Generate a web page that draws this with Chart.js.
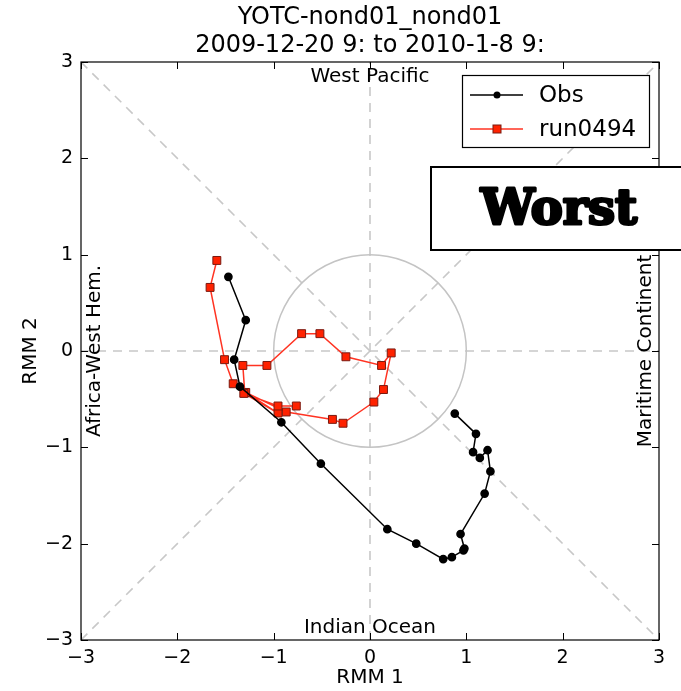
<!DOCTYPE html>
<html>
<head>
<meta charset="utf-8">
<script src="https://cdn.jsdelivr.net/npm/chart.js@4.4.0/dist/chart.umd.min.js"></script>
<style>
html,body{margin:0;padding:0;background:#fff;}
#wrap{width:681px;height:691px;position:relative;}
</style>
</head>
<body>
<div id="wrap"><canvas id="c" width="681" height="691"></canvas></div>
<script>
// ---- data ----
const obsX = [-1.47,-1.29,-1.41,-1.35,-0.92,-0.51,0.18,0.48,0.76,0.85,0.97,0.98,0.94,1.19,1.25,1.22,1.14,1.07,1.10,0.88];
const obsY = [0.77,0.32,-0.09,-0.37,-0.74,-1.17,-1.85,-2.00,-2.16,-2.14,-2.07,-2.05,-1.90,-1.48,-1.25,-1.03,-1.11,-1.05,-0.86,-0.65];
const runX = [-1.59,-1.66,-1.51,-1.42,-1.30,-1.32,-1.07,-0.71,-0.52,-0.25,0.12,0.22,0.14,0.04,-0.28,-0.39,-0.87,-1.29,-0.955,-1.31,-0.955,-0.765];
const runY = [0.94,0.66,-0.09,-0.34,-0.435,-0.15,-0.15,0.18,0.18,-0.06,-0.15,-0.02,-0.40,-0.53,-0.75,-0.71,-0.633,-0.43,-0.644,-0.44,-0.571,-0.571];
const tickVals = [-3,-2,-1,0,1,2,3];
const titleLines = ["YOTC-nond01_nond01","2009-12-20 9: to 2010-1-8 9:"];
const seriesNames = ["Obs","run0494"];
const regionLabels = {top:"West Pacific", bottom:"Indian Ocean", left:"Africa-West Hem.", right:"Maritime Continent"};
const axisTitles = ["RMM 1","RMM 2"];
const stampText = "Worst";

const FONT = '"DejaVu Sans", sans-serif';
const toPts = (xs, ys) => xs.map((x,i)=>({x:x, y:ys[i]}));
const fmt = v => (v < 0 ? '\u2212' + Math.abs(v) : String(v));

const decor = {
  id:'decor',
  beforeDatasetsDraw(chart){
    const {ctx, chartArea:a, scales:{x, y}} = chart;
    ctx.save();
    ctx.beginPath(); ctx.rect(a.left, a.top, a.right-a.left, a.bottom-a.top); ctx.clip();
    ctx.strokeStyle = '#c8c8c8'; ctx.lineWidth = 1.6; ctx.setLineDash([9,7]);
    const seg = (x1,y1,x2,y2)=>{ctx.beginPath();ctx.moveTo(x.getPixelForValue(x1),y.getPixelForValue(y1));ctx.lineTo(x.getPixelForValue(x2),y.getPixelForValue(y2));ctx.stroke();};
    seg(-3,-3,3,3); seg(-3,3,3,-3); seg(0,-3,0,3); seg(-3,0,3,0);
    ctx.setLineDash([]);
    ctx.strokeStyle = '#c4c4c4'; ctx.lineWidth = 1.5;
    const cx = x.getPixelForValue(0), cy = y.getPixelForValue(0);
    const r = x.getPixelForValue(1) - cx;
    ctx.beginPath(); ctx.arc(cx, cy, r, 0, Math.PI*2); ctx.stroke();
    // region labels
    ctx.fillStyle = '#000'; ctx.font = '20px ' + FONT; ctx.textAlign='center'; ctx.textBaseline='middle';
    ctx.fillText(regionLabels.top, cx, a.top + 15);
    ctx.fillText(regionLabels.bottom, cx, a.bottom - 12);
    ctx.save(); ctx.translate(a.left + 14, cy); ctx.rotate(-Math.PI/2); ctx.fillText(regionLabels.left, 0, 0); ctx.restore();
    ctx.save(); ctx.translate(a.right - 13, cy); ctx.rotate(-Math.PI/2); ctx.fillText(regionLabels.right, 0, 0); ctx.restore();
    ctx.restore();
  },
  afterDraw(chart){
    const {ctx, chartArea:a, scales:{x, y}} = chart;
    ctx.save();
    // frame
    ctx.strokeStyle = '#000'; ctx.lineWidth = 1.2;
    ctx.strokeRect(a.left, a.top, a.right-a.left, a.bottom-a.top);
    // inward ticks
    ctx.lineWidth = 1;
    tickVals.forEach(v=>{
      const px = Math.round(x.getPixelForValue(v))+0.5, py = Math.round(y.getPixelForValue(v))+0.5;
      ctx.beginPath();
      ctx.moveTo(px, a.bottom); ctx.lineTo(px, a.bottom-7);
      ctx.moveTo(px, a.top); ctx.lineTo(px, a.top+7);
      ctx.moveTo(a.left, py); ctx.lineTo(a.left+7, py);
      ctx.moveTo(a.right, py); ctx.lineTo(a.right-7, py);
      ctx.stroke();
    });
    // titles
    const cx = (a.left + a.right)/2;
    ctx.fillStyle = '#000'; ctx.textAlign='center'; ctx.textBaseline='middle';
    ctx.font = '24px ' + FONT;
    ctx.fillText(titleLines[0], cx, 18);
    ctx.fillText(titleLines[1], cx, 46);
    ctx.font = '20px ' + FONT;
    ctx.fillText(axisTitles[0], cx, 678);
    ctx.save(); ctx.translate(31, (a.top+a.bottom)/2); ctx.rotate(-Math.PI/2); ctx.fillText(axisTitles[1], 0, 0); ctx.restore();
    // legend
    const lx = 462, ly = 75, lw = 187, lh = 72;
    ctx.fillStyle = '#fff'; ctx.fillRect(lx, ly, lw, lh);
    ctx.strokeStyle = '#000'; ctx.lineWidth = 1.2; ctx.strokeRect(lx+0.5, ly+0.5, lw, lh);
    const ds = chart.data.datasets;
    [0,1].forEach(i=>{
      const yy = ly + 20 + i*34;
      ctx.strokeStyle = ds[i].borderColor; ctx.lineWidth = ds[i].borderWidth;
      ctx.beginPath(); ctx.moveTo(lx+8, yy); ctx.lineTo(lx+61, yy); ctx.stroke();
      ctx.fillStyle = ds[i].pointBackgroundColor; ctx.strokeStyle = ds[i].pointBorderColor; ctx.lineWidth = 1;
      if (i===0){ ctx.beginPath(); ctx.arc(lx+35, yy, 3.5, 0, Math.PI*2); ctx.fill(); }
      else { ctx.fillRect(lx+31, yy-4, 8, 8); ctx.strokeRect(lx+31, yy-4, 8, 8); }
      ctx.fillStyle = '#000'; ctx.font = '23px ' + FONT; ctx.textAlign='left';
      ctx.fillText(seriesNames[i], lx+77, yy+1);
    });
    // stamp
    ctx.fillStyle = '#fff'; ctx.fillRect(430, 166, 260, 84);
    ctx.strokeStyle = '#000'; ctx.lineWidth = 2; ctx.strokeRect(431, 167, 260, 83);
    ctx.fillStyle = '#000'; ctx.textAlign='center'; ctx.textBaseline='middle';
    ctx.font = '900 48px "DejaVu Serif", serif';
    ctx.lineWidth = 3; ctx.strokeStyle = '#000'; ctx.lineJoin='round';
    ctx.strokeText(stampText, 559, 212);
    ctx.fillText(stampText, 559, 212);
    ctx.restore();
  }
};

new Chart(document.getElementById('c'), {
  type:'scatter',
  data:{
    datasets:[
      {label:seriesNames[0], data:toPts(obsX, obsY), showLine:true, borderColor:'#000', borderWidth:1.5,
       pointBackgroundColor:'#000', pointBorderColor:'#000', pointRadius:3.6, pointStyle:'circle'},
      {label:seriesNames[1], data:toPts(runX, runY), showLine:true, borderColor:'#ff3322', borderWidth:1.5,
       pointBackgroundColor:'#ff2200', pointBorderColor:'#7a1a10', pointBorderWidth:1, pointRadius:5.6, pointStyle:'rect'}
    ]
  },
  options:{
    responsive:false, animation:false, devicePixelRatio:1,
    layout:{padding:{top:62, right:22, left:0, bottom:0}},
    plugins:{legend:{display:false}, title:{display:false}, tooltip:{enabled:false}},
    scales:{
      x:{type:'linear', min:-3, max:3, afterFit:s=>{s.height=51;},
         afterBuildTicks:s=>{s.ticks = tickVals.map(v=>({value:v}));},
         grid:{display:false, drawTicks:false}, border:{display:false},
         ticks:{color:'#000', font:{family:'DejaVu Sans', size:19}, padding:7, maxRotation:0, callback:v=>fmt(v)}},
      y:{type:'linear', min:-3, max:3, afterFit:s=>{s.width=81;},
         afterBuildTicks:s=>{s.ticks = tickVals.map(v=>({value:v}));},
         grid:{display:false, drawTicks:false}, border:{display:false},
         ticks:{color:'#000', font:{family:'DejaVu Sans', size:19}, padding:8, callback:v=>fmt(v)}}
    }
  },
  plugins:[decor]
});
</script>
</body>
</html>
